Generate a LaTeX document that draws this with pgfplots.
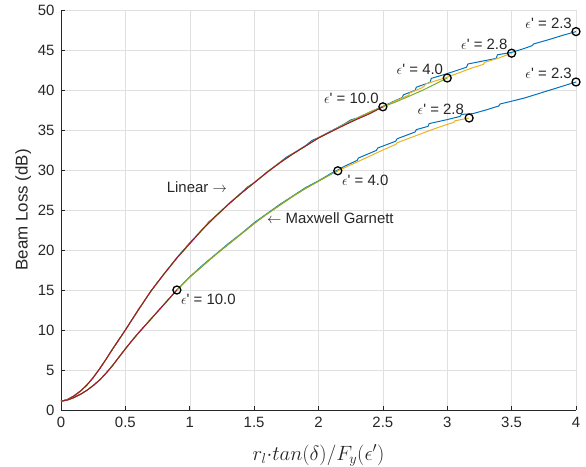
\documentclass[border=0pt]{standalone}
\usepackage{pgfplots}
\pgfplotsset{compat=1.18}
\usepackage{fontspec}
\setmainfont{Liberation Sans}
\definecolor{mblue}{rgb}{0,0.447,0.741}
\definecolor{myellow}{rgb}{0.929,0.694,0.125}
\definecolor{mgreen}{rgb}{0.466,0.674,0.188}
\definecolor{mred}{rgb}{0.635,0.078,0.184}
\definecolor{axgray}{rgb}{0.15,0.15,0.15}
\newcommand{\eps}{$\epsilon$\textquotesingle}
\begin{document}
\begin{tikzpicture}
\useasboundingbox (-61bp,-57bp) rectangle (525bp,410bp);
\begin{axis}[
  at={(0,0)}, anchor=south west,
  scale only axis, width=515bp, height=400bp,
  xmin=0, xmax=4, ymin=0, ymax=50,
  xtick={0,0.5,1,1.5,2,2.5,3,3.5,4},
  ytick={0,5,10,15,20,25,30,35,40,45,50},
  axis x line*=bottom, axis y line*=left,
  axis line style={-, axgray, line width=0.6pt},
  grid=major, grid style={black!12, line width=0.5pt},
  tick align=inside, major tick length=4bp,
  tick style={axgray, line width=0.6pt},
  tick label style={font=\fontsize{15}{17}\selectfont, text=axgray},
  xticklabel style={yshift=-4bp},
  yticklabel style={xshift=-3bp},
  /pgf/number format/assume math mode=true,
  xlabel={$r_l{\cdot}tan(\delta)/F_y(\epsilon')$},
  xlabel style={font=\fontsize{21}{23}\selectfont, text=axgray, yshift=-10bp},
  ylabel={Beam Loss (dB)},
  ylabel style={font=\fontsize{17}{19}\selectfont, text=axgray},
  clip=false,
  every axis plot/.append style={line width=1pt},
]
% ---- Linear family ----
\addplot[mblue] coordinates {(0,1.1) (0.05,1.3) (0.1,1.75) (0.15,2.35) (0.2,3.1) (0.25,4.05) (0.3,5.15) (0.35,6.35) (0.4,7.6) (0.45,8.8) (0.5,10.0) (0.6,12.5) (0.7,14.9) (0.8,17.0) (0.9,19.05) (1.0,20.9) (1.1,22.6) (1.15,23.55) (1.2,24.2) (1.3,25.75) (1.4,27.15) (1.45,27.9) (1.5,28.4) (1.6,29.75) (1.7,30.95) (1.75,31.6) (1.8,32.05) (1.9,33.05) (1.95,33.7) (2.0,34.05) (2.1,34.9) (2.2,35.75) (2.25,36.25) (2.3,36.5) (2.4,37.25) (2.5,37.95) (2.6,38.7) (2.65,39.05) (2.66,39.4) (2.75,39.95) (2.76,40.35) (2.866,40.95) (2.876,41.45) (3.0,42.05) (3.15,42.85) (3.16,43.25) (3.38,43.95) (3.39,44.4) (3.5,44.7) (3.6,45.2) (3.66,45.55) (3.67,45.75) (3.8,46.35) (3.9,46.85) (4.0,47.3)};
\addplot[myellow] coordinates {(0,1.1) (0.05,1.3) (0.1,1.75) (0.15,2.35) (0.2,3.1) (0.25,4.05) (0.3,5.15) (0.35,6.35) (0.4,7.6) (0.45,8.8) (0.5,10.0) (0.6,12.5) (0.7,14.9) (0.8,17.0) (0.9,19.0) (1.0,20.8) (1.1,22.65) (1.2,24.2) (1.3,25.7) (1.4,27.1) (1.5,28.45) (1.6,29.7) (1.7,30.9) (1.8,32.0) (1.9,33.0) (2.0,34.0) (2.1,34.85) (2.2,35.7) (2.3,36.5) (2.4,37.25) (2.5,37.9) (2.6,38.65) (2.7,39.35) (2.71,39.65) (2.8,40.25) (2.82,40.45) (2.83,40.75) (2.95,41.35) (3.0,41.6) (3.1,42.2) (3.2,42.8) (3.28,43.2) (3.29,43.45) (3.4,44.0) (3.5,44.6)};
\addplot[mgreen] coordinates {(0,1.1) (0.05,1.3) (0.1,1.75) (0.15,2.35) (0.2,3.1) (0.25,4.05) (0.3,5.15) (0.35,6.35) (0.4,7.6) (0.45,8.8) (0.5,10.0) (0.6,12.5) (0.7,14.9) (0.8,17.0) (0.9,19.0) (1.0,20.8) (1.1,22.6) (1.2,24.25) (1.3,25.7) (1.4,27.1) (1.5,28.4) (1.6,29.7) (1.7,30.95) (1.8,32.0) (1.9,33.0) (2.0,34.0) (2.1,34.85) (2.2,35.7) (2.3,36.45) (2.4,37.2) (2.5,37.9) (2.6,38.5) (2.7,39.2) (2.8,39.9) (2.9,40.7) (3.0,41.5)};
\addplot[mred] coordinates {(0,1.1) (0.05,1.3) (0.1,1.75) (0.15,2.35) (0.2,3.1) (0.25,4.05) (0.3,5.15) (0.35,6.35) (0.4,7.6) (0.45,8.8) (0.5,10.0) (0.6,12.5) (0.7,14.9) (0.8,17.0) (0.9,19.0) (1.0,20.8) (1.1,22.6) (1.2,24.2) (1.3,25.7) (1.4,27.1) (1.5,28.4) (1.6,29.7) (1.7,30.9) (1.8,32.0) (1.9,33.0) (2.0,34.0) (2.1,34.8) (2.2,35.6) (2.3,36.35) (2.4,37.05) (2.5,37.9)};
% ---- Maxwell Garnett family ----
\addplot[mblue] coordinates {(0,1.1) (0.05,1.25) (0.1,1.55) (0.15,1.95) (0.2,2.45) (0.25,3.05) (0.3,3.75) (0.35,4.6) (0.4,5.55) (0.45,6.6) (0.5,7.65) (0.55,8.65) (0.6,9.6) (0.7,11.4) (0.8,13.2) (0.9,15.0) (1.0,16.65) (1.1,18.1) (1.2,19.45) (1.3,20.8) (1.4,22.05) (1.5,23.4) (1.6,24.55) (1.7,25.7) (1.8,26.75) (1.9,27.8) (2.0,28.65) (2.1,29.6) (2.15,30.0) (2.2,30.45) (2.3,31.2) (2.31,31.5) (2.45,32.45) (2.46,32.75) (2.6,33.6) (2.61,33.9) (2.75,34.75) (2.76,35.05) (2.85,35.45) (2.86,35.8) (3.0,36.3) (3.1,36.7) (3.11,36.95) (3.2,37.05) (3.3,37.5) (3.4,38.0) (3.41,38.25) (3.5,38.6) (3.6,39.0) (3.7,39.5) (3.8,40.0) (3.9,40.5) (4.0,41.0)};
\addplot[myellow] coordinates {(0,1.1) (0.05,1.25) (0.1,1.55) (0.15,1.95) (0.2,2.45) (0.25,3.05) (0.3,3.75) (0.35,4.6) (0.4,5.55) (0.45,6.6) (0.5,7.65) (0.55,8.65) (0.6,9.6) (0.7,11.4) (0.8,13.2) (0.9,15.0) (1.0,16.6) (1.1,18.0) (1.2,19.4) (1.3,20.7) (1.4,22.0) (1.5,23.3) (1.6,24.5) (1.7,25.6) (1.8,26.7) (1.9,27.7) (2.0,28.6) (2.1,29.5) (2.15,29.9) (2.3,31.0) (2.5,32.5) (2.6,33.2) (2.61,33.4) (2.8,34.55) (2.9,35.15) (3.0,35.7) (3.05,35.95) (3.06,36.15) (3.17,36.5)};
\addplot[mgreen] coordinates {(0,1.1) (0.05,1.25) (0.1,1.55) (0.15,1.95) (0.2,2.45) (0.25,3.05) (0.3,3.75) (0.35,4.6) (0.4,5.55) (0.45,6.6) (0.5,7.65) (0.55,8.65) (0.6,9.6) (0.7,11.4) (0.8,13.2) (0.9,15.0) (1.0,16.6) (1.1,18.0) (1.2,19.4) (1.3,20.7) (1.4,22.0) (1.5,23.3) (1.6,24.5) (1.7,25.6) (1.8,26.7) (1.9,27.7) (2.0,28.6) (2.1,29.5) (2.15,29.9)};
\addplot[mred] coordinates {(0,1.1) (0.05,1.25) (0.1,1.55) (0.15,1.95) (0.2,2.45) (0.25,3.05) (0.3,3.75) (0.35,4.6) (0.4,5.55) (0.45,6.6) (0.5,7.65) (0.55,8.65) (0.6,9.6) (0.7,11.4) (0.8,13.2) (0.9,15.0)};
% ---- markers ----
\addplot[only marks, mark=o, mark size=4bp, black, mark options={line width=1.3pt}] coordinates {(2.5,37.9) (3.0,41.5) (3.5,44.6) (4.0,47.3) (0.9,15.0) (2.15,29.9) (3.17,36.5) (4.0,41.0)};
% ---- labels ----
\begin{scope}[every node/.style={font=\fontsize{15}{17}\selectfont, text=axgray, inner sep=0pt}]
\node[anchor=south east, xshift=-4bp, yshift=3bp] at (axis cs:4.0,47.3) {\eps{} = 2.3};
\node[anchor=south east, xshift=-4bp, yshift=3bp] at (axis cs:3.5,44.6) {\eps{} = 2.8};
\node[anchor=south east, xshift=-4bp, yshift=3bp] at (axis cs:3.0,41.5) {\eps{} = 4.0};
\node[anchor=south east, xshift=-4bp, yshift=3bp] at (axis cs:2.5,37.9) {\eps{} = 10.0};
\node[anchor=south east, xshift=-4bp, yshift=3bp] at (axis cs:4.0,41.0) {\eps{} = 2.3};
\node[anchor=south east, xshift=-5bp, yshift=3bp] at (axis cs:3.17,36.5) {\eps{} = 2.8};
\node[anchor=north west, xshift=4bp, yshift=-4bp] at (axis cs:2.15,29.9) {\eps{} = 4.0};
\node[anchor=north west, xshift=4bp, yshift=-4bp] at (axis cs:0.9,15.0) {\eps{} = 10.0};
\node[anchor=east] at (axis cs:1.29,27.9) {Linear $\rightarrow$};
\node[anchor=west] at (axis cs:1.6,24.0) {$\leftarrow$ Maxwell Garnett};
\end{scope}
\end{axis}
\end{tikzpicture}
\end{document}
